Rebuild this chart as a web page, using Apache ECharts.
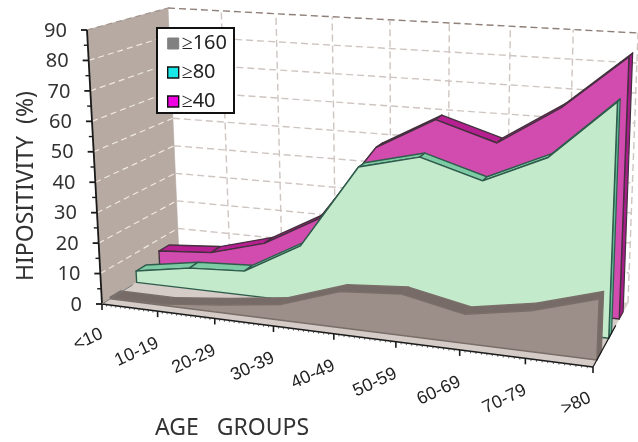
<!DOCTYPE html>
<html><head><meta charset="utf-8">
<style>html,body{margin:0;padding:0;background:#fff}#c{width:638px;height:442px}</style>
<script src="https://cdn.jsdelivr.net/npm/echarts@6/dist/echarts.min.js"></script>
</head><body><div id="c"></div>
<script>
const categories = ['<10','10-19','20-29','30-39','40-49','50-59','60-69','70-79','>80'];
const yTicks = [0,10,20,30,40,50,60,70,80,90];
const seriesNames = ['≥160','≥80','≥40'];
const v160 = [0.5,0.5,2.5,5,11.5,13,9,12.5,18.5];
const v80 = [3.9,7,8.1,18.6,46.6,51.6,45.7,55,74.2];
const v40 = [6,7.4,12.6,23,49,60,53.8,67,85];

const W=638,H=442;
// perspective box corners
const FBL=[102,304],FTL=[87,30],BBL=[179,256],BTL=[168,8],FBR=[593,367],FTR=[604,67],BBR=[628,303],BTR=[638,33];
const mix=(a,b,t)=>[a[0]+(b[0]-a[0])*t,a[1]+(b[1]-a[1])*t];
const K=0.118;
function proj(p,w){
  const u=p[0]/W,s=(H-p[1])/H,t=u/(1+K*(1-u));
  const f=mix(mix(FBL,FBR,t),mix(FTL,FTR,t),s);
  const b=mix(mix(BBL,BBR,t),mix(BTL,BTR,t),s);
  return mix(f,b,w);
}
const P=(api,c,v,w)=>proj(api.coord([c,v]),w);
const poly=(points,fill,stroke,lw)=>({type:'polygon',shape:{points},style:{fill,stroke:stroke||fill,lineWidth:lw==null?0.6:lw,lineJoin:'round'}});
const line=(points,stroke,lw,dash)=>({type:'polyline',shape:{points},style:{fill:null,stroke,lineWidth:lw,lineDash:dash||null}});

function renderFrame(params,api){
  const n=categories.length-1,yMax=yTicks[yTicks.length-1];
  const ch=[];
  ch.push(poly([P(api,0,0,0),P(api,0,yMax,0),P(api,0,yMax,1),P(api,0,0,1)],'#B6AAA2'));
  ch.push(poly([P(api,0,0,0),P(api,n,0,0),P(api,n,0,1),P(api,0,0,1)],'#D5CCC7'));
  yTicks.forEach(v=>{
    if(v===0) return;
    const top=v===yMax;
    ch.push(line([P(api,0,v,0),P(api,0,v,1)],top?'#A4968E':'#EFE9E2',1.2,[6,4]));
    ch.push(line([P(api,0,v,1),P(api,n,v,1)],top?'#8E7F78':'#CFC5C0',1.4,[7,4]));
  });
  for(let i=1;i<=n;i++) ch.push(line([P(api,i,0,1),P(api,i,yMax,1)],'#CFC5C0',1.4,[7,4]));
  return {type:'group',children:ch};
}
function renderAxes(params,api){
  const n=categories.length-1,yMax=yTicks[yTicks.length-1];
  const ch=[];
  ch.push(line([P(api,0,0,0),P(api,0,yMax,0)],'#1a1a1a',1.8));
  ch.push(line([P(api,0,0,0),P(api,n,0,0)],'#1a1a1a',1.6));
  ch.push(line([P(api,n,0,0),P(api,n,0,0.65)],'#1a1a1a',1.2));
  ch.push(line([P(api,0,0,0),P(api,0,0,0.4)],'#777',1));
  yTicks.forEach(v=>{
    const a=P(api,0,v,0);
    ch.push(line([[a[0]-6,a[1]],[a[0],a[1]]],'#1a1a1a',1.8));
    ch.push({type:'text',x:a[0]-20,y:a[1]+1,style:{text:String(v),align:'right',verticalAlign:'middle',font:'20px "Noto Sans"',fill:'#333'}});
    if(v<yMax){const m=P(api,0,v+5,0);ch.push(line([[m[0]-4,m[1]],[m[0],m[1]]],'#1a1a1a',1.4));}
  });
  categories.forEach((c,i)=>{
    const a=P(api,i,0,0);
    ch.push(line([[a[0],a[1]],[a[0],a[1]+6]],'#1a1a1a',1.6));
    if(i<n) for(let k=1;k<12;k++){
      const m=P(api,i+k/12,0,0);
      ch.push(line([[m[0],m[1]],[m[0],m[1]+2]],'#333',0.8));
    }
    ch.push({type:'text',x:a[0]+(i===n?-3:0),y:a[1]+(i===0?29:i===n?30:31),rotation:0.44,style:{text:c,align:'right',verticalAlign:'middle',font:'18px "Liberation Sans"',fill:'#222'}});
  });
  return {type:'group',children:ch};
}
function areaRenderer(values,w0,dL,dR,front,top,side,stroke){
  const n=values.length-1;
  const back=k=>w0+dL+(dR-dL)*k/n;
  return function(params,api){
    const i=params.dataIndex, ch=[];
    if(i>0){
      ch.push(poly([P(api,i-1,values[i-1],w0),P(api,i,api.value(1),w0),P(api,i,api.value(1),back(i)),P(api,i-1,values[i-1],back(i-1))],top,stroke,1.4));
    }
    if(i===n){
      ch.push(poly([P(api,n,api.value(1),w0),P(api,n,api.value(1),back(n)),P(api,n,0,back(n)),P(api,n,0,w0)],side,stroke,1.2));
      const pts=[P(api,0,0,w0)];
      values.forEach((v,k)=>pts.push(P(api,k,v,w0)));
      pts.push(P(api,n,0,w0));
      ch.push(poly(pts,front,stroke,1.4));
    }
    return {type:'group',children:ch};
  };
}
const rows=a=>a.map((v,i)=>[i,v]);
const custom=(name,data,ri,color,extra)=>Object.assign({type:'custom',name,data,renderItem:ri,silent:true,clip:false,coordinateSystem:'cartesian2d',encode:{x:0,y:1},itemStyle:{color}},extra||{});
const chart=echarts.init(document.getElementById('c'),null,{renderer:'canvas',width:W,height:H});
chart.setOption({
  animation:false,backgroundColor:'#fff',
  grid:{left:0,top:0,width:W,height:H},
  xAxis:{type:'value',min:0,max:categories.length-1,show:false},
  yAxis:{type:'value',min:0,max:yTicks[yTicks.length-1],show:false},
  legend:{
    orient:'vertical',left:157,top:28,padding:[5,7,1,10],itemGap:8,itemWidth:11,itemHeight:11,
    borderColor:'#111',borderWidth:2,backgroundColor:'#fff',selectedMode:false,
    textStyle:{fontSize:20,fontFamily:'Noto Sans',color:'#222',padding:[0,0,0,-2],lineHeight:21},
    data:[
      {name:seriesNames[0],icon:'rect',itemStyle:{color:'#808080',borderColor:'#808080',borderWidth:1}},
      {name:seriesNames[1],icon:'rect',itemStyle:{color:'#19E8E8',borderColor:'#111',borderWidth:1.4}},
      {name:seriesNames[2],icon:'rect',itemStyle:{color:'#F000E0',borderColor:'#111',borderWidth:1.4}}
    ]
  },
  series:[
    custom('frame',[[0,0]],renderFrame,'#B6AAA2'),
    custom(seriesNames[2],rows(v40),areaRenderer(v40,0.75,0.13,0.11,'#D24BAE','#B51F90','#A81C8A','#45303F'),'#F000E0'),
    custom(seriesNames[1],rows(v80),areaRenderer(v80,0.45,0.13,0.08,'#C3EACB','#7DCBA4','#5FB896','#2F5C4C'),'#19E8E8'),
    custom(seriesNames[0],rows(v160),areaRenderer(v160,0.11,0.13,0.13,'#9C8E89','#766B66','#766B66','#7A6E69'),'#808080'),
    custom('axes',[[0,0]],renderAxes,'#111')
  ],
  graphic:[
    {type:'text',x:26,y:186,rotation:Math.PI/2,style:{text:'HIPOSITIVITY  (%)',align:'center',verticalAlign:'middle',font:'23px "Noto Sans"',fill:'#333'}},
    {type:'text',x:232,y:428,style:{text:'AGE   GROUPS',align:'center',verticalAlign:'middle',font:'23px "Noto Sans"',fill:'#333'}}
  ]
});
</script></body></html>
